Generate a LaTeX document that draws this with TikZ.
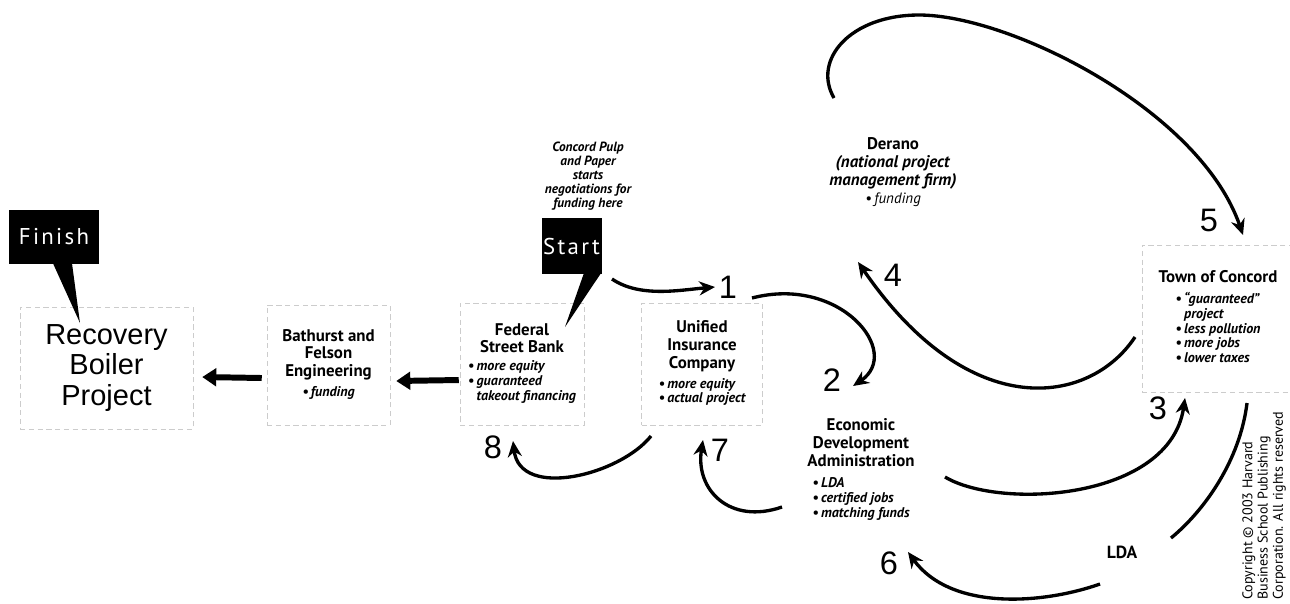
\documentclass[tikz,border=0pt]{standalone}
\usepackage{fontspec}
\setmainfont{PT Sans}
\newfontfamily\arialfont{Liberation Sans}
\newfontfamily\callfont{PT Sans}[LetterSpace=10]
\usetikzlibrary{arrows.meta}
\newcommand{\bul}[1]{{\fontsize{8}{8.4}\selectfont\bfseries\itshape
  \begin{tabular}[t]{@{}l@{}}#1\end{tabular}}}
\newcommand{\itm}{\textbullet\,}

\begin{document}
\begin{tikzpicture}[x=0.02cm,y=-0.02cm,
  box/.style={rectangle,draw=gray!40,densely dashed,line width=0.3pt,align=center,inner sep=0pt,font=\fontsize{9.6}{10.2}\selectfont\bfseries},
  txt/.style={align=center,inner sep=0pt,font=\fontsize{9.6}{10.2}\selectfont\bfseries},
  call/.style={rectangle,fill=black,text=white,inner sep=0pt,font=\callfont\fontsize{13}{13}\selectfont},
  num/.style={inner sep=0pt,font=\arialfont\fontsize{18.5}{18.5}\selectfont},
  swing/.style={line width=1.9pt,-{Stealth[length=9pt,width=8pt]}},
  fat/.style={line width=3.4pt,-{Triangle[length=8pt,width=10pt]}}]
  \useasboundingbox (0,0) rectangle (1290,603);

  % chain of parties, right to left
  \node[call,minimum width=1.8cm,minimum height=1.08cm] (fin) at (54,237) {Finish};
  \node[box,minimum width=3.46cm,minimum height=2.44cm,font=\arialfont\fontsize{16.5}{17.5}\selectfont] (rbp) at (106.5,368) {Recovery\\Boiler\\Project};
  \node[box,minimum width=2.46cm,minimum height=2.4cm] (bfe) at (328.5,365) {Bathurst and\\Felson\\Engineering\\[1pt]\bul{\itm funding}};
  \node[box,minimum width=2.48cm,minimum height=2.44cm] (fsb) at (522,364) {Federal\\Street Bank\\\bul{\itm more equity\\\itm guaranteed\\\phantom{\itm}takeout financing}};
  \node[box,minimum width=2.42cm,minimum height=2.44cm] (uic) at (702,364) {Unified\\Insurance\\Company\\[1pt]\bul{\itm more equity\\\itm actual project}};

  \node[txt,font=\fontsize{7.6}{7.9}\selectfont\bfseries\itshape] (cpp) at (588,176) {Concord Pulp\\and Paper\\starts\\negotiations for\\funding here};
  \node[call,minimum width=1.2cm,minimum height=1.12cm] (start) at (571.5,246) {Start};

  \node[txt] (der) at (893,172) {Derano\\\textit{(national project}\\\textit{management firm)}\\{\fontsize{8.5}{8}\selectfont\mdseries\itshape\itm funding}};
  \node[box,minimum width=3.04cm,minimum height=2.94cm] (toc) at (1218,318.5) {Town of Concord\\[2pt]\bul{\itm ``guaranteed''\\\phantom{\itm}project\\\itm less pollution\\\itm more jobs\\\itm lower taxes}};
  \node[txt] (eda) at (861,470) {Economic\\Development\\Administration\\[2pt]\bul{\itm LDA\\\itm certified jobs\\\itm matching funds}};
  \node[txt,font=\fontsize{10}{10}\selectfont\bfseries] (lda) at (1122,552) {LDA};

  \node[num] (n1) at (728,287) {1};
  \node[num] (n2) at (832,380) {2};
  \node[num] (n3) at (1158,408) {3};
  \node[num] (n4) at (893,275) {4};
  \node[num] (n5) at (1209,220) {5};
  \node[num] (n6) at (889,563) {6};
  \node[num] (n7) at (720,450) {7};
  \node[num] (n8) at (493,447) {8};

  \node[rotate=90,anchor=north west,align=left,inner sep=0pt,font=\fontsize{8}{8.7}\selectfont] (copy) at (1242,600) {Copyright \textcopyright\ 2003 Harvard\\Business School Publishing\\Corporation. All rights reserved};

  % callout pointers
  \fill ([shift={(-1,-1)}]fin.south) -- ([shift={(18,-1)}]fin.south) -- (80,323) -- cycle;
  \fill ([shift={(-18,-1)}]start.south east) -- ([shift={(-1,-1)}]start.south east) -- (565,327) -- cycle;

  % money passed down the chain
  \draw[fat] ([shift={(-5,13)}]bfe.west) -- ([shift={(9,9)}]rbp.east);
  \draw[fat] ([shift={(-1,16)}]fsb.west) -- ([shift={(6,16)}]bfe.east);

  % numbered steps
  \coordinate (s1) at (612,279);
  \coordinate (e1) at (715,287);
  \coordinate (s2) at (752,298);
  \coordinate (e2) at (853,386);
  \coordinate (s3) at (945,477);
  \coordinate (e3) at (1185,398);
  \coordinate (s4) at (1135,337);
  \coordinate (e4) at (858,262);
  \coordinate (s5) at (834,98);
  \coordinate (e5) at (1243,235);
  \coordinate (s6) at (1100,584);
  \coordinate (e6) at (908,552);
  \coordinate (s7) at (782,507);
  \coordinate (e7) at (703,440);
  \coordinate (s8) at (651,436);
  \coordinate (e8) at (513,441);
  \coordinate (sl) at (1247,403);
  \coordinate (el) at (1171,538);

  \draw[swing] (s1) .. controls (640,298) and (680,290) .. (e1);
  \draw[swing] (s2) .. controls (840,275) and (903,352) .. (e2);
  \draw[swing] (s3) .. controls (1000,510) and (1170,500) .. (e3);
  \draw[swing] (s4) .. controls (1090,405) and (970,425) .. (e4);
  \draw[swing] (s5) .. controls (812,60) and (850,15) .. (919,15)
                    .. controls (1010,15) and (1200,110) .. (e5);
  \draw[swing] (s6) .. controls (1040,605) and (950,610) .. (e6);
  \draw[swing] (s7) .. controls (730,525) and (695,490) .. (e7);
  \draw[swing] (s8) .. controls (620,475) and (520,500) .. (e8);
  \draw[line width=1.9pt] (sl) .. controls (1240,460) and (1205,510) .. (el);
\end{tikzpicture}
\end{document}
